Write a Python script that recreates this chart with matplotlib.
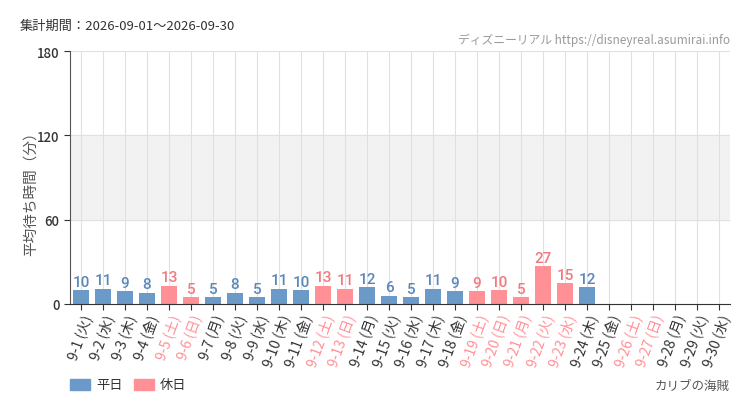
import matplotlib
matplotlib.use("Agg")
import matplotlib.pyplot as plt
import numpy as np

plt.rcParams['font.family'] = ['Noto Sans CJK JP', 'DejaVu Sans']

days = [f"9-{d}" for d in range(1, 31)]
weekdays = ["火","水","木","金","土","日","月","火","水","木","金","土","日","月","火","水","木","金","土","日","月","火","水","木","金","土","日","月","火","水"]
holiday = [False,False,False,False,True,True,False,False,False,False,False,True,True,False,False,False,False,False,True,True,True,True,True,False,False,True,True,False,False,False]
values = [10,11,9,8,13,5,5,8,5,11,10,13,11,12,6,5,11,9,9,10,5,27,15,12]
yticks = [0, 60, 120, 180]

BLUE = "#6b9ac8"
PINK = "#ff9096"
BLUE_T = "#5b87b8"
PINK_T = "#f07a80"

fig = plt.figure(figsize=(7.5, 4.1), dpi=100)
ax = fig.add_axes([70/750, 1-305/410, 660/750, 253/410])

n = len(days)
x = np.arange(n)
ax.set_xlim(-0.5, n - 0.5)
ax.set_ylim(0, 180)
ax.axhspan(60, 120, color="#f2f2f2", zorder=0)
for xi in x:
    ax.axvline(xi, color="#e0e0e0", lw=0.8, zorder=0.5)
for yv in yticks[1:]:
    ax.axhline(yv, color="#e0e0e0", lw=0.8, zorder=0.5)

for i, v in enumerate(values):
    c = PINK if holiday[i] else BLUE
    tc = PINK_T if holiday[i] else BLUE_T
    ax.bar(x[i], v, width=0.72, color=c, zorder=2)
    ax.text(x[i], v + 1.0, str(v), ha="center", va="bottom", color=tc,
            fontsize=11, family="Roboto", weight="medium", zorder=3)

ax.set_xticks(x)
ax.set_xticklabels([f"{d} ({w})" for d, w in zip(days, weekdays)], rotation=70,
                   ha="right", rotation_mode="anchor", fontsize=10)
for lbl, h in zip(ax.get_xticklabels(), holiday):
    lbl.set_color(PINK if h else "#333333")
ax.set_yticks(yticks)
ax.set_yticklabels([str(t) for t in yticks], fontsize=9.5, color="#333333", weight="medium")
ax.tick_params(axis="x", length=4, color="#333333", pad=2)
ax.tick_params(axis="y", length=4, color="#333333")
for s in ["top", "right"]:
    ax.spines[s].set_visible(False)
ax.spines["left"].set_color("#555555")
ax.spines["bottom"].set_color("#333333")
fig.text(31/750, 1-190/410, "平均待ち時間（分）", fontsize=10.5, color="#555555",
         rotation=90, ha="center", va="center")

fig.text(20/750, 1-26/410, "集計期間：2026-09-01～2026-09-30", fontsize=9.5, color="#333333", va="center")
fig.text(730/750, 1-40/410, "ディズニーリアル https://disneyreal.asumirai.info", fontsize=8.5, color="#999999", va="center", ha="right")
fig.text(730/750, 1-386/410, "カリブの海賊", fontsize=9, color="#555555", va="center", ha="right")

fig.patches.append(plt.Rectangle((70/750, 1-391/410), 20/750, 11/410, transform=fig.transFigure, color=BLUE))
fig.text(96/750, 1-386/410, "平日", fontsize=9.5, color="#333333", va="center")
fig.patches.append(plt.Rectangle((134/750, 1-391/410), 20/750, 11/410, transform=fig.transFigure, color=PINK))
fig.text(160/750, 1-386/410, "休日", fontsize=9.5, color="#333333", va="center")

fig.savefig("out.png", dpi=100, facecolor="white")
